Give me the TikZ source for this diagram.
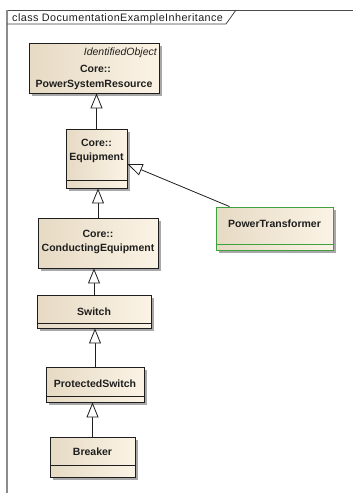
\documentclass[tikz,border=0pt]{standalone}
\usepackage{fontspec}
\setmainfont{Liberation Sans}
\newfontfamily\titlefont[LetterSpace=4]{Liberation Sans}
\usetikzlibrary{arrows.meta}

\definecolor{inkc}{HTML}{1E1E1E}
\definecolor{frametop}{HTML}{4A4A4A}
\definecolor{frameside}{HTML}{8C8C8C}
\definecolor{shadowc}{HTML}{A8A8A8}
\definecolor{fillL}{HTML}{E6DAC4}
\definecolor{fillM}{HTML}{F9F0E0}
\definecolor{fillR}{HTML}{FBF3E5}
\definecolor{greenc}{HTML}{3FA03F}

\begin{document}
\begin{tikzpicture}[x=1pt,y=-1pt,
  classbox/.style={rectangle, inner sep=0pt, draw=inkc, line width=0.9pt,
    left color=fillL, middle color=fillM, right color=fillR,
    preaction={fill=shadowc, transform canvas={xshift=3pt,yshift=-3pt}}},
  leafbox/.style={classbox, draw=greenc},
  compline/.style={draw=inkc, line width=0.8pt},
  cname/.style={anchor=base, inner sep=0pt, text=inkc,
    font=\fontsize{10.5}{12}\selectfont\bfseries},
  stereo/.style={anchor=base east, inner sep=0pt, text=inkc,
    font=\fontsize{10.5}{12}\selectfont\itshape},
  gen/.style={draw=inkc, line width=0.8pt,
    -{Triangle[length=15pt,width=12pt,fill=white]}}]

\useasboundingbox (0,0) rectangle (353,493);

% diagram frame and its name tab
\draw[frametop, line width=1pt] (7,10) -- (353,10);
\draw[frameside, line width=2pt] (7,9.5) -- (7,493);
\draw[inkc!85, line width=0.8pt] (7,24) -- (226,24) -- (236,10);
\node[anchor=base west, inner sep=0pt, text=inkc,
  font=\fontsize{10.8}{12}\titlefont] (title) at (12,21)
  {class DocumentationExampleInheritance};

% classes
\node[classbox, minimum width=130pt, minimum height=50pt] (psr) at (94,68) {};
\node[stereo] (psr-st) at (157,55) {IdentifiedObject};
\node[cname] (psr-pkg) at (95.5,72.5) {Core::};
\node[cname] (psr-nm) at (94,87) {PowerSystemResource};

\node[classbox, minimum width=61pt, minimum height=59pt] (eq) at (96.5,158.5) {};
\node[cname] (eq-pkg) at (96.5,146.5) {Core::};
\node[cname] (eq-nm) at (96.5,160.5) {Equipment};
\draw[compline] ([yshift=8pt]eq.south west) -- ([yshift=8pt]eq.south east);

\node[classbox, minimum width=120pt, minimum height=50pt] (ce) at (98,243) {};
\node[cname] (ce-pkg) at (98,237) {Core::};
\node[cname] (ce-nm) at (98,251) {ConductingEquipment};

\node[classbox, minimum width=114pt, minimum height=33pt] (sw) at (94,311.5) {};
\node[cname] (sw-nm) at (94,315) {Switch};
\draw[compline] ([yshift=5pt]sw.south west) -- ([yshift=5pt]sw.south east);

\node[classbox, minimum width=98pt, minimum height=35pt] (ps) at (95,384.5) {};
\node[cname] (ps-nm) at (95,387) {ProtectedSwitch};
\draw[compline] ([yshift=6pt]ps.south west) -- ([yshift=6pt]ps.south east);

\node[classbox, minimum width=85pt, minimum height=40pt] (br) at (92.5,457) {};
\node[cname] (br-nm) at (92.5,455) {Breaker};
\draw[compline] ([yshift=12pt]br.south west) -- ([yshift=12pt]br.south east);

\node[leafbox, minimum width=117pt, minimum height=43pt] (pt) at (274.5,228.5) {};
\node[cname] (pt-nm) at (274.5,227) {PowerTransformer};
\draw[compline, draw=greenc] ([yshift=6pt]pt.south west) -- ([yshift=6pt]pt.south east);

% generalizations
\draw[gen] (eq.north) -- (eq.north |- psr.south);
\draw[gen] (ce.north) -- (ce.north |- eq.south);
\draw[gen] (sw.north) -- (sw.north |- ce.south);
\draw[gen] (ps.north) -- (ps.north |- sw.south);
\draw[gen] (br.north) -- (br.north |- ps.south);
\draw[gen] ([xshift=14pt]pt.north west) -- ([yshift=-5.5pt]eq.east);

\end{tikzpicture}
\end{document}
